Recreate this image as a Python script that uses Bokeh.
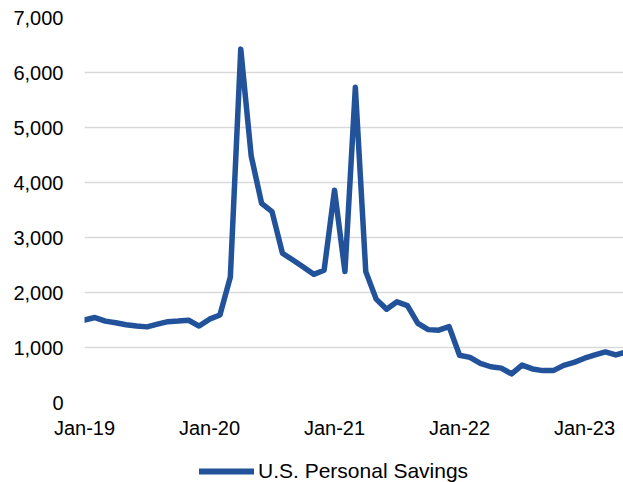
from bokeh.plotting import figure
from bokeh.layouts import column
from bokeh.models import (Range1d, FixedTicker, NumeralTickFormatter, Legend, LegendItem,
                          ColumnDataSource)
from bokeh.embed import file_html
from bokeh.resources import INLINE

# Monthly data, Jan-2019 .. May-2023 (billions)
months = [f"{m}-{y}" for y in ["19", "20", "21", "22", "23"]
          for m in ["Jan", "Feb", "Mar", "Apr", "May", "Jun", "Jul", "Aug", "Sep", "Oct", "Nov", "Dec"]][:53]
savings = [1500, 1545, 1480, 1450, 1415, 1390, 1375, 1425, 1470, 1480, 1495, 1390,
           1515, 1590, 2280, 6425, 4485, 3620, 3470, 2715, 2590, 2465, 2330, 2405,
           3860, 2380, 5730, 2380, 1880, 1695, 1830, 1760, 1440, 1325, 1315, 1380,
           860, 820, 710, 650, 625, 520, 680, 610, 580, 580, 675, 730,
           805, 865, 920, 865, 920]
tick_labels = ["Jan-19", "Jan-20", "Jan-21", "Jan-22", "Jan-23"]
series_name = "U.S. Personal Savings"

idx = list(range(len(savings)))
src = ColumnDataSource(dict(x=idx, y=savings, month=months))

FONT = "Liberation Sans"
COLOR = "#22529a"

p = figure(frame_width=539, frame_height=385, output_backend="svg", toolbar_location=None,
           x_range=Range1d(0, 51.74), y_range=Range1d(0, 7000))
p.min_border_left = 84
p.min_border_top = 17
p.min_border_right = 0
p.min_border_bottom = 37
p.outline_line_color = None
p.background_fill_color = "white"
p.border_fill_color = "white"

r = p.line("x", "y", source=src, line_color=COLOR, line_width=5.5,
           line_join="round", line_cap="round")

p.xgrid.visible = False
p.ygrid.grid_line_color = "#d9d9d9"
p.ygrid.grid_line_width = 1.5

p.yaxis.ticker = FixedTicker(ticks=list(range(0, 7001, 1000)))
p.yaxis.formatter = NumeralTickFormatter(format="0,0")
p.xaxis.ticker = FixedTicker(ticks=[0, 12, 24, 36, 48])
p.xaxis.major_label_overrides = {i * 12: t for i, t in enumerate(tick_labels)}

for ax in (p.xaxis[0], p.yaxis[0]):
    ax.axis_line_color = None
    ax.major_tick_line_color = None
    ax.minor_tick_line_color = None
    ax.major_tick_out = 0
    ax.major_tick_in = 0
    ax.major_label_text_font = FONT
    ax.major_label_text_font_size = "20px"
    ax.major_label_text_color = "#000000"
p.yaxis.major_label_standoff = 21
p.xaxis.major_label_standoff = 14

# Legend strip below the chart
p2 = figure(width=623, height=43, output_backend="svg", toolbar_location=None,
            x_range=Range1d(0, 1), y_range=Range1d(0, 1))
p2.axis.visible = False
p2.grid.visible = False
p2.outline_line_color = None
p2.min_border = 0
p2.background_fill_color = "white"
p2.border_fill_color = "white"
r2 = p2.line("x", "y", source=src, line_color=COLOR, line_width=6, line_cap="round")

legend = Legend(items=[LegendItem(label=series_name, renderers=[r2])],
                orientation="horizontal", location=(115, 1))
legend.label_text_font = FONT
legend.label_text_font_size = "21px"
legend.label_text_color = "#000000"
legend.glyph_width = 55
legend.label_standoff = 4
legend.border_line_color = None
legend.background_fill_alpha = 0
legend.padding = 0
legend.margin = 0
p2.add_layout(legend, "center")

layout = column(p, p2, spacing=0)
open("out.html", "w").write(file_html(layout, INLINE))
